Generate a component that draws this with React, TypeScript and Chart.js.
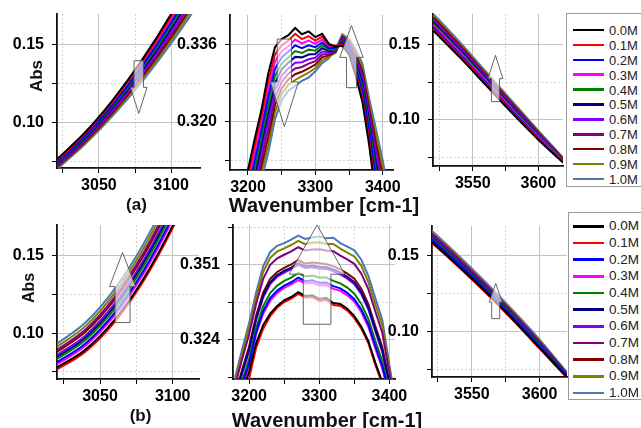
import React, { useEffect, useRef } from 'react';
import { Chart, registerables } from 'chart.js';

Chart.register(...registerables);

const FONT = "'Liberation Sans', Arial, Helvetica, sans-serif";

// ---------------- data ----------------
const SERIES_LABELS = ['0.0M', '0.1M', '0.2M', '0.3M', '0.4M', '0.5M', '0.6M', '0.7M', '0.8M', '0.9M', '1.0M'];
const SERIES_COLORS = ['#000000', '#ff0000', '#0000ff', '#ff00ff', '#008000', '#000080', '#8000ff', '#800080', '#800000', '#808000', '#4a7ab5'];

const LOW_X = [3020, 3040, 3060, 3080, 3100, 3120];
const HIGH_X = [3520, 3540, 3560, 3580, 3600, 3620];
const A_PEAK_X = [3190, 3200, 3210, 3220, 3230, 3240, 3250, 3260, 3270, 3280, 3290, 3300, 3310, 3320, 3330, 3340, 3350, 3360, 3370, 3380, 3390, 3400, 3410];
const B_PEAK_X = [3180, 3190, 3200, 3210, 3220, 3230, 3240, 3250, 3260, 3270, 3280, 3290, 3300, 3310, 3320, 3330, 3340, 3350, 3360, 3370, 3380, 3390, 3400, 3410];

// (a) 3020-3120 region, one row per concentration (legend order)
const A_LOW_ABS = [
  [0.0753, 0.0931, 0.1149, 0.1405, 0.1700, 0.2035],
  [0.0747, 0.0923, 0.1139, 0.1391, 0.1681, 0.2010],
  [0.0734, 0.0908, 0.1118, 0.1363, 0.1643, 0.1959],
  [0.0740, 0.0916, 0.1129, 0.1377, 0.1662, 0.1984],
  [0.0728, 0.0901, 0.1108, 0.1349, 0.1624, 0.1933],
  [0.0722, 0.0893, 0.1098, 0.1335, 0.1605, 0.1908],
  [0.0715, 0.0885, 0.1088, 0.1321, 0.1586, 0.1883],
  [0.0709, 0.0878, 0.1078, 0.1307, 0.1567, 0.1857],
  [0.0703, 0.0870, 0.1067, 0.1293, 0.1548, 0.1832],
  [0.0696, 0.0863, 0.1057, 0.1279, 0.1529, 0.1806],
  [0.0690, 0.0855, 0.1047, 0.1265, 0.1510, 0.1781],
];

// (a) 3190-3410 region
const A_PEAK_ABS = [
  [0.3030, 0.3100, 0.3165, 0.3225, 0.3300, 0.3355, 0.3372, 0.3380, 0.3395, 0.3382, 0.3388, 0.3376, 0.3383, 0.3362, 0.3356, 0.3358, 0.3340, 0.3295, 0.3240, 0.3150, 0.3040, 0.2960, 0.2900],
  [0.3017, 0.3085, 0.3150, 0.3211, 0.3284, 0.3340, 0.3359, 0.3369, 0.3383, 0.3372, 0.3378, 0.3369, 0.3377, 0.3359, 0.3358, 0.3360, 0.3343, 0.3301, 0.3248, 0.3160, 0.3054, 0.2976, 0.2914],
  [0.2991, 0.3055, 0.3119, 0.3182, 0.3251, 0.3310, 0.3334, 0.3346, 0.3359, 0.3353, 0.3359, 0.3355, 0.3365, 0.3353, 0.3354, 0.3365, 0.3350, 0.3312, 0.3264, 0.3179, 0.3083, 0.3008, 0.2942],
  [0.3004, 0.3070, 0.3134, 0.3196, 0.3267, 0.3325, 0.3347, 0.3357, 0.3371, 0.3363, 0.3369, 0.3362, 0.3371, 0.3356, 0.3357, 0.3363, 0.3346, 0.3306, 0.3256, 0.3170, 0.3069, 0.2992, 0.2928],
  [0.2978, 0.3040, 0.3103, 0.3167, 0.3234, 0.3295, 0.3321, 0.3334, 0.3347, 0.3343, 0.3350, 0.3348, 0.3359, 0.3350, 0.3350, 0.3368, 0.3353, 0.3317, 0.3272, 0.3189, 0.3098, 0.3024, 0.2956],
  [0.2965, 0.3025, 0.3088, 0.3153, 0.3218, 0.3280, 0.3309, 0.3323, 0.3335, 0.3334, 0.3340, 0.3341, 0.3353, 0.3347, 0.3348, 0.3370, 0.3356, 0.3323, 0.3280, 0.3199, 0.3112, 0.3040, 0.2970],
  [0.2952, 0.3010, 0.3072, 0.3138, 0.3201, 0.3265, 0.3296, 0.3311, 0.3323, 0.3324, 0.3330, 0.3333, 0.3346, 0.3344, 0.3347, 0.3372, 0.3359, 0.3328, 0.3288, 0.3209, 0.3126, 0.3056, 0.2984],
  [0.2939, 0.2995, 0.3057, 0.3124, 0.3185, 0.3250, 0.3283, 0.3300, 0.3311, 0.3314, 0.3321, 0.3326, 0.3340, 0.3341, 0.3346, 0.3375, 0.3362, 0.3334, 0.3296, 0.3219, 0.3141, 0.3072, 0.2998],
  [0.2926, 0.2980, 0.3041, 0.3109, 0.3168, 0.3235, 0.3270, 0.3288, 0.3299, 0.3304, 0.3311, 0.3319, 0.3334, 0.3338, 0.3345, 0.3377, 0.3366, 0.3339, 0.3304, 0.3228, 0.3155, 0.3088, 0.3012],
  [0.2913, 0.2965, 0.3026, 0.3095, 0.3152, 0.3220, 0.3258, 0.3277, 0.3287, 0.3295, 0.3302, 0.3312, 0.3328, 0.3335, 0.3344, 0.3380, 0.3369, 0.3345, 0.3312, 0.3238, 0.3170, 0.3104, 0.3026],
  [0.2900, 0.2950, 0.3010, 0.3080, 0.3135, 0.3205, 0.3245, 0.3265, 0.3275, 0.3285, 0.3292, 0.3305, 0.3322, 0.3332, 0.3352, 0.3382, 0.3372, 0.3350, 0.3320, 0.3248, 0.3184, 0.3120, 0.3040],
];

// (a) 3520-3620 region
const A_HIGH_ABS = [
  [0.1590, 0.1415, 0.1230, 0.1045, 0.0870, 0.0710],
  [0.1601, 0.1425, 0.1239, 0.1053, 0.0876, 0.0713],
  [0.1612, 0.1435, 0.1248, 0.1061, 0.0882, 0.0716],
  [0.1623, 0.1445, 0.1257, 0.1069, 0.0888, 0.0719],
  [0.1634, 0.1455, 0.1266, 0.1077, 0.0894, 0.0722],
  [0.1645, 0.1465, 0.1275, 0.1085, 0.0900, 0.0725],
  [0.1656, 0.1475, 0.1284, 0.1093, 0.0906, 0.0728],
  [0.1667, 0.1485, 0.1293, 0.1101, 0.0912, 0.0731],
  [0.1678, 0.1495, 0.1302, 0.1109, 0.0918, 0.0734],
  [0.1689, 0.1505, 0.1311, 0.1117, 0.0924, 0.0737],
  [0.1700, 0.1515, 0.1320, 0.1125, 0.0930, 0.0740],
];

// (b) 3020-3120 region
const B_LOW_ABS = [
  [0.0776, 0.0894, 0.1086, 0.1354, 0.1696, 0.2114],
  [0.0763, 0.0881, 0.1072, 0.1339, 0.1680, 0.2096],
  [0.0810, 0.0934, 0.1132, 0.1406, 0.1756, 0.2181],
  [0.0796, 0.0919, 0.1115, 0.1387, 0.1734, 0.2157],
  [0.0830, 0.0956, 0.1157, 0.1435, 0.1788, 0.2217],
  [0.0843, 0.0971, 0.1174, 0.1454, 0.1810, 0.2241],
  [0.0857, 0.0986, 0.1191, 0.1473, 0.1831, 0.2266],
  [0.0890, 0.1024, 0.1234, 0.1521, 0.1885, 0.2326],
  [0.0877, 0.1009, 0.1217, 0.1502, 0.1864, 0.2302],
  [0.0910, 0.1046, 0.1259, 0.1550, 0.1918, 0.2363],
  [0.0930, 0.1069, 0.1285, 0.1579, 0.1950, 0.2399],
];

// (b) 3180-3410 region
const B_PEAK_ABS = [
  [0.2975, 0.3050, 0.3125, 0.3228, 0.3293, 0.3334, 0.3362, 0.3382, 0.3394, 0.3411, 0.3398, 0.3400, 0.3387, 0.3391, 0.3372, 0.3369, 0.3352, 0.3325, 0.3287, 0.3235, 0.3157, 0.3087, 0.3005, 0.2922],
  [0.2960, 0.3030, 0.3100, 0.3212, 0.3280, 0.3325, 0.3355, 0.3376, 0.3388, 0.3405, 0.3392, 0.3394, 0.3380, 0.3384, 0.3365, 0.3362, 0.3345, 0.3318, 0.3280, 0.3228, 0.3150, 0.3080, 0.3000, 0.2920],
  [0.3001, 0.3079, 0.3156, 0.3267, 0.3343, 0.3390, 0.3417, 0.3435, 0.3447, 0.3464, 0.3451, 0.3454, 0.3445, 0.3446, 0.3433, 0.3425, 0.3409, 0.3386, 0.3349, 0.3296, 0.3217, 0.3144, 0.3042, 0.2942],
  [0.2995, 0.3072, 0.3148, 0.3260, 0.3334, 0.3380, 0.3409, 0.3427, 0.3439, 0.3455, 0.3443, 0.3445, 0.3436, 0.3437, 0.3423, 0.3416, 0.3400, 0.3377, 0.3340, 0.3286, 0.3208, 0.3135, 0.3036, 0.2939],
  [0.3012, 0.3093, 0.3172, 0.3283, 0.3361, 0.3408, 0.3435, 0.3452, 0.3464, 0.3481, 0.3468, 0.3471, 0.3464, 0.3464, 0.3452, 0.3443, 0.3428, 0.3406, 0.3369, 0.3315, 0.3236, 0.3163, 0.3054, 0.2949],
  [0.3037, 0.3123, 0.3206, 0.3317, 0.3399, 0.3447, 0.3473, 0.3488, 0.3500, 0.3516, 0.3504, 0.3507, 0.3503, 0.3501, 0.3493, 0.3482, 0.3467, 0.3447, 0.3411, 0.3356, 0.3277, 0.3202, 0.3080, 0.2962],
  [0.3033, 0.3118, 0.3200, 0.3311, 0.3392, 0.3441, 0.3467, 0.3482, 0.3494, 0.3510, 0.3498, 0.3501, 0.3496, 0.3495, 0.3486, 0.3475, 0.3460, 0.3440, 0.3404, 0.3349, 0.3270, 0.3195, 0.3075, 0.2960],
  [0.3076, 0.3170, 0.3260, 0.3370, 0.3459, 0.3510, 0.3533, 0.3546, 0.3558, 0.3573, 0.3561, 0.3565, 0.3566, 0.3561, 0.3559, 0.3543, 0.3529, 0.3513, 0.3478, 0.3422, 0.3342, 0.3264, 0.3120, 0.2984],
  [0.3044, 0.3132, 0.3216, 0.3327, 0.3410, 0.3459, 0.3484, 0.3499, 0.3511, 0.3527, 0.3514, 0.3518, 0.3515, 0.3512, 0.3505, 0.3493, 0.3478, 0.3460, 0.3424, 0.3368, 0.3289, 0.3213, 0.3087, 0.2966],
  [0.3092, 0.3189, 0.3282, 0.3392, 0.3484, 0.3535, 0.3558, 0.3569, 0.3581, 0.3596, 0.3584, 0.3589, 0.3591, 0.3585, 0.3585, 0.3568, 0.3554, 0.3540, 0.3506, 0.3448, 0.3368, 0.3289, 0.3137, 0.2993],
  [0.3105, 0.3205, 0.3300, 0.3410, 0.3504, 0.3556, 0.3578, 0.3588, 0.3600, 0.3615, 0.3603, 0.3608, 0.3612, 0.3605, 0.3607, 0.3588, 0.3575, 0.3562, 0.3528, 0.3470, 0.3390, 0.3310, 0.3150, 0.3000],
];

// (b) 3520-3620 region
const B_HIGH_ABS = [
  [0.1593, 0.1431, 0.1261, 0.1080, 0.0890, 0.0698],
  [0.1587, 0.1425, 0.1255, 0.1075, 0.0885, 0.0695],
  [0.1609, 0.1446, 0.1275, 0.1093, 0.0902, 0.0705],
  [0.1603, 0.1440, 0.1269, 0.1088, 0.0897, 0.0702],
  [0.1619, 0.1455, 0.1283, 0.1101, 0.0909, 0.0709],
  [0.1625, 0.1461, 0.1289, 0.1106, 0.0914, 0.0712],
  [0.1632, 0.1467, 0.1294, 0.1111, 0.0919, 0.0715],
  [0.1648, 0.1482, 0.1308, 0.1124, 0.0931, 0.0722],
  [0.1641, 0.1476, 0.1303, 0.1119, 0.0926, 0.0719],
  [0.1657, 0.1491, 0.1317, 0.1132, 0.0938, 0.0726],
  [0.1667, 0.1500, 0.1325, 0.1140, 0.0945, 0.0730],
];

// ticks
const ABS_TICKS = [0.075, 0.1, 0.125, 0.15];
const ABS_TICK_LABELS = ['', '0.10', '', '0.15'];
const A_PEAK_TICKS = [0.312, 0.32, 0.328, 0.336];
const A_PEAK_TICK_LABELS = ['', '0.320', '', '0.336'];
const B_PEAK_TICKS = [0.3105, 0.324, 0.3375, 0.351, 0.3645];
const B_PEAK_TICK_LABELS = ['', '0.324', '', '0.351', ''];
const LOW_X_TICKS = [3025, 3050, 3075, 3100];
const LOW_X_TICK_LABELS = ['', '3050', '', '3100'];
const PEAK_X_TICKS = [3200, 3250, 3300, 3350, 3400];
const PEAK_X_TICK_LABELS = ['3200', '', '3300', '', '3400'];
const HIGH_X_TICKS = [3525, 3550, 3575, 3600];
const HIGH_X_TICK_LABELS = ['', '3550', '', '3600'];

// ---------------- layout ----------------
type Arrow = { x: number; tail: number; base: number; tip: number; shaft: number; head: number };
type Panel = {
  id: string; left: number; top: number; w: number; h: number;
  xs: number[]; ys: number[][];
  xMin: number; xMax: number; yMin: number; yMax: number;
  xTicks: number[]; xLabels: string[]; yTicks: number[]; yLabels: string[];
  smooth: boolean; arrows: Arrow[];
};

const PANELS: Panel[] = [
  { id: 'a1', left: 57, top: 14, w: 143, h: 154, xs: LOW_X, ys: A_LOW_ABS, xMin: 3021, xMax: 3120, yMin: 0.0705, yMax: 0.17,
    xTicks: LOW_X_TICKS, xLabels: LOW_X_TICK_LABELS, yTicks: ABS_TICKS, yLabels: ABS_TICK_LABELS, smooth: true,
    arrows: [{ x: 3077.6, tail: 0.1398, base: 0.1226, tip: 0.1058, shaft: 4.7, head: 8.3 }] },
  { id: 'a2', left: 230, top: 15, w: 163, h: 155, xs: A_PEAK_X, ys: A_PEAK_ABS, xMin: 3173.3, xMax: 3415.2, yMin: 0.31, yMax: 0.3422,
    xTicks: PEAK_X_TICKS, xLabels: PEAK_X_TICK_LABELS, yTicks: A_PEAK_TICKS, yLabels: A_PEAK_TICK_LABELS, smooth: false,
    arrows: [
      { x: 3254, tail: 0.3372, base: 0.3283, tip: 0.319, shaft: 7.2, head: 14 },
      { x: 3353.6, tail: 0.3271, base: 0.3334, tip: 0.34, shaft: 5, head: 11.7 },
    ] },
  { id: 'a3', left: 433, top: 14, w: 130, h: 152, xs: HIGH_X, ys: A_HIGH_ABS, xMin: 3519.7, xMax: 3618.8, yMin: 0.0696, yMax: 0.17,
    xTicks: HIGH_X_TICKS, xLabels: HIGH_X_TICK_LABELS, yTicks: ABS_TICKS, yLabels: ABS_TICK_LABELS, smooth: true,
    arrows: [{ x: 3567.3, tail: 0.1121, base: 0.1273, tip: 0.1427, shaft: 4, head: 7.5 }] },
  { id: 'b1', left: 57, top: 225, w: 142, h: 154, xs: LOW_X, ys: B_LOW_ABS, xMin: 3020.4, xMax: 3118.1, yMin: 0.0704, yMax: 0.17,
    xTicks: LOW_X_TICKS, xLabels: LOW_X_TICK_LABELS, yTicks: ABS_TICKS, yLabels: ABS_TICK_LABELS, smooth: true,
    arrows: [{ x: 3065.5, tail: 0.1069, base: 0.1302, tip: 0.1522, shaft: 7.5, head: 13 }] },
  { id: 'b2', left: 233, top: 225, w: 162, h: 154, xs: B_PEAK_X, ys: B_PEAK_ABS, xMin: 3177, xMax: 3408, yMin: 0.3099, yMax: 0.3653,
    xTicks: PEAK_X_TICKS, xLabels: PEAK_X_TICK_LABELS, yTicks: B_PEAK_TICKS, yLabels: B_PEAK_TICK_LABELS, smooth: false,
    arrows: [{ x: 3296.9, tail: 0.3296, base: 0.3476, tip: 0.3653, shaft: 13.8, head: 27.8 }] },
  { id: 'b3', left: 432, top: 226, w: 135, h: 151, xs: HIGH_X, ys: B_HIGH_ABS, xMin: 3520.6, xMax: 3620.2, yMin: 0.0698, yMax: 0.1694,
    xTicks: HIGH_X_TICKS, xLabels: HIGH_X_TICK_LABELS, yTicks: ABS_TICKS, yLabels: ABS_TICK_LABELS, smooth: true,
    arrows: [{ x: 3567.6, tail: 0.1083, base: 0.1192, tip: 0.1315, shaft: 4, head: 6.5 }] },
];

const PAD_L = 60, PAD_T = 10, PAD_R = 22, PAD_B = 30;

function arrowPlugin(arrows: Arrow[]) {
  return {
    id: 'panelArrows',
    afterDatasetsDraw(chart: any) {
      const { ctx, scales } = chart;
      const xs = scales.x, ys = scales.y;
      arrows.forEach((a) => {
        const cx = xs.getPixelForValue(a.x);
        const yTail = ys.getPixelForValue(a.tail);
        const yBase = ys.getPixelForValue(a.base);
        const yTip = ys.getPixelForValue(a.tip);
        ctx.save();
        ctx.beginPath();
        ctx.moveTo(cx - a.shaft, yTail);
        ctx.lineTo(cx - a.shaft, yBase);
        ctx.lineTo(cx - a.head, yBase);
        ctx.lineTo(cx, yTip);
        ctx.lineTo(cx + a.head, yBase);
        ctx.lineTo(cx + a.shaft, yBase);
        ctx.lineTo(cx + a.shaft, yTail);
        ctx.closePath();
        ctx.fillStyle = 'rgba(255,255,255,0.62)';
        ctx.fill();
        ctx.lineWidth = 0.9;
        ctx.strokeStyle = '#555';
        ctx.stroke();
        ctx.restore();
      });
    },
  };
}

function PanelChart({ p }: { p: Panel }) {
  const ref = useRef<HTMLCanvasElement | null>(null);
  const W = p.w + PAD_L + PAD_R;
  const H = p.h + PAD_T + PAD_B;
  useEffect(() => {
    if (!ref.current) return;
    const tickFont = { family: FONT, size: 16, weight: 'bold' as const };
    const chart = new Chart(ref.current, {
      type: 'line',
      data: {
        datasets: SERIES_LABELS.map((label, i) => ({
          label,
          data: p.xs.map((xv, j) => ({ x: xv, y: p.ys[i][j] })),
          borderColor: SERIES_COLORS[i],
          backgroundColor: SERIES_COLORS[i],
          borderWidth: 2,
          pointRadius: 0,
          tension: p.smooth ? 0.4 : 0,
          cubicInterpolationMode: p.smooth ? 'monotone' : 'default',
          fill: false,
        })) as any,
      },
      options: {
        animation: false,
        responsive: false,
        devicePixelRatio: 1,
        layout: { padding: { left: 0, top: PAD_T, right: PAD_R, bottom: 0 } },
        plugins: { legend: { display: false }, tooltip: { enabled: false } },
        events: [],
        scales: {
          x: {
            type: 'linear',
            min: p.xMin,
            max: p.xMax,
            bounds: 'data',
            afterBuildTicks: (axis: any) => { axis.ticks = p.xTicks.map((v) => ({ value: v })); },
            afterFit: (s: any) => { s.height = PAD_B; s.paddingLeft = 0; s.paddingRight = 0; },
            ticks: {
              autoSkip: false, maxRotation: 0, minRotation: 0, padding: 3, color: '#000', font: tickFont,
              callback: (_v: any, i: number) => p.xLabels[i],
            },
            grid: {
              color: (c: any) => (p.xLabels[c.index] ? '#c2c2c2' : '#d4d4d4'),
              lineWidth: 1, tickLength: 5, tickColor: '#000', tickWidth: 1,
            },
            border: {
              display: true, color: '#111', width: 1.8,
              dash: (c: any) => (c.type === 'tick' && !p.xLabels[c.index] ? [2, 2] : []),
            },
          },
          y: {
            type: 'linear',
            min: p.yMin,
            max: p.yMax,
            bounds: 'data',
            afterBuildTicks: (axis: any) => { axis.ticks = p.yTicks.map((v) => ({ value: v })); },
            afterFit: (s: any) => { s.width = PAD_L; s.paddingTop = 0; s.paddingBottom = 0; },
            ticks: {
              autoSkip: false, padding: 8, color: '#000', font: tickFont,
              callback: (_v: any, i: number) => p.yLabels[i],
            },
            grid: {
              color: (c: any) => (p.yLabels[c.index] ? '#c2c2c2' : '#d4d4d4'),
              lineWidth: 1, tickLength: 5, tickColor: '#000', tickWidth: 1,
            },
            border: {
              display: true, color: '#111', width: 1.8,
              dash: (c: any) => (c.type === 'tick' && !p.yLabels[c.index] ? [2, 2] : []),
            },
          },
        },
      } as any,
      plugins: [arrowPlugin(p.arrows)],
    });
    return () => chart.destroy();
  }, [p]);
  return (
    <canvas
      ref={ref}
      width={W}
      height={H}
      style={{ position: 'absolute', left: p.left - PAD_L, top: p.top - PAD_T, width: W, height: H }}
    />
  );
}

function Legend({ left, top, height, firstY, step, fontSize }: { left: number; top: number; height: number; firstY: number; step: number; fontSize: number }) {
  return (
    <div style={{ position: 'absolute', left, top, width: 90, height, border: '1px solid #9a9a9a', background: '#fff', boxSizing: 'border-box' }}>
      {SERIES_LABELS.map((lab, i) => {
        const cy = firstY + i * step - top - 1;
        return (
          <React.Fragment key={lab}>
            <div style={{ position: 'absolute', left: 573 - left - 1, top: cy - 1.25, width: 31, height: 2.5, background: SERIES_COLORS[i] }} />
            <div style={{ position: 'absolute', left: 609 - left - 1, top: cy, transform: 'translateY(-50%)', fontFamily: FONT, fontSize, lineHeight: 1, color: '#222', whiteSpace: 'nowrap' }}>{lab}</div>
          </React.Fragment>
        );
      })}
    </div>
  );
}

function Label({ text, x, y, size, rotate }: { text: string; x: number; y: number; size: number; rotate?: boolean }) {
  return (
    <div style={{
      position: 'absolute', left: x, top: y, transform: `translate(-50%, -50%)${rotate ? ' rotate(-90deg)' : ''}`,
      fontFamily: FONT, fontWeight: 'bold', fontSize: size, lineHeight: 1, color: '#111', whiteSpace: 'nowrap',
    }}>{text}</div>
  );
}

export default function App() {
  return (
    <div style={{ position: 'fixed', left: 0, top: 0, width: 641, height: 428, overflow: 'hidden', background: '#fff' }}>
      {PANELS.map((p) => <PanelChart key={p.id} p={p} />)}
      <Label text="Abs" x={36} y={76} size={17} rotate />
      <Label text="Abs" x={28.5} y={288} size={16} rotate />
      <Label text="(a)" x={136.5} y={204} size={17} />
      <Label text="(b)" x={140.5} y={415} size={17} />
      <Label text="Wavenumber [cm-1]" x={324} y={205} size={20} />
      <Label text="Wavenumber [cm-1]" x={327} y={420} size={20} />
      <Legend left={566} top={12.7} height={174} firstY={30} step={14.9} fontSize={13} />
      <Legend left={568} top={211.7} height={188} firstY={226.3} step={16.67} fontSize={13.5} />
    </div>
  );
}
